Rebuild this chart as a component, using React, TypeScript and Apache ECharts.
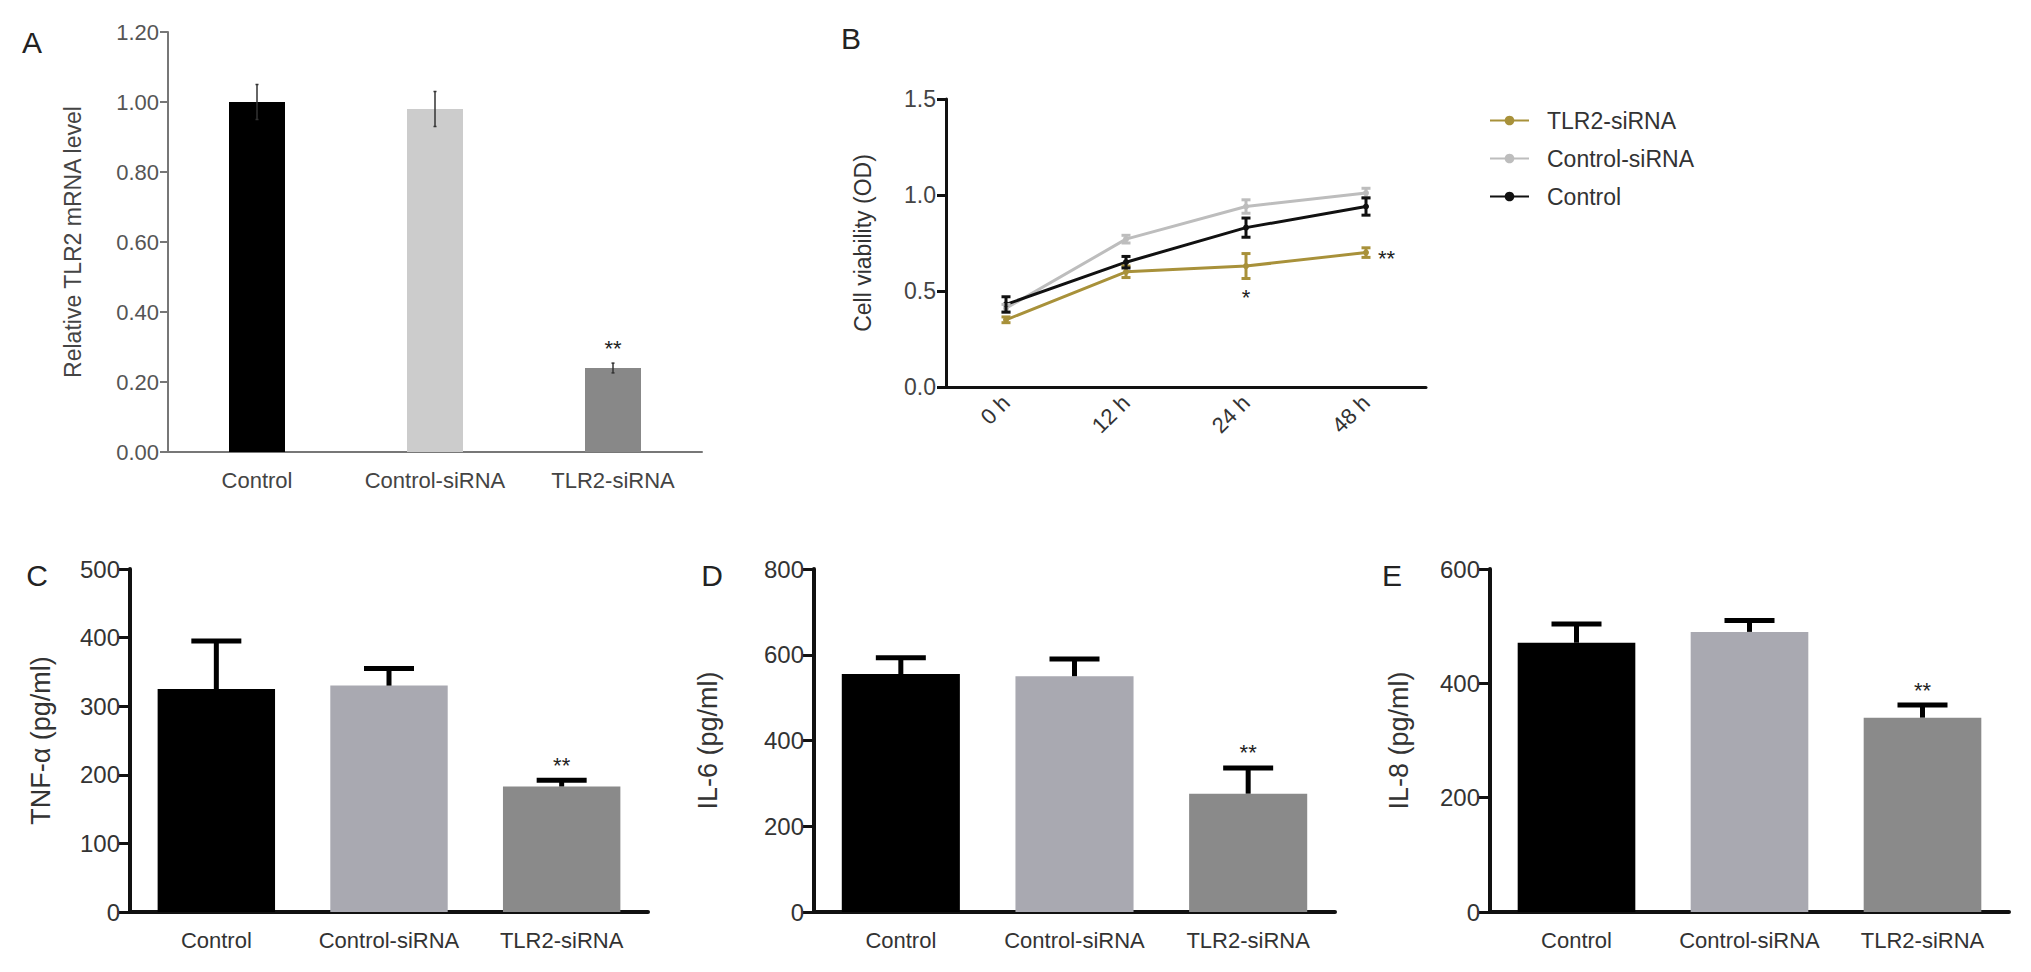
import { useEffect, useRef } from 'react';
import * as echarts from 'echarts';

const FONT = '"Liberation Sans", Arial, sans-serif';

// groups used by panels A, C, D, E
const groups = ['Control', 'Control-siRNA', 'TLR2-siRNA'];

// A: relative TLR2 mRNA level
const aMean = [1.0, 0.98, 0.24];
const aSd = [0.05, 0.05, 0.014];
const aSig = ['', '', '**'];

// B: cell viability (OD)
const hours = ['0 h', '12 h', '24 h', '48 h'];
const bTlr = [0.35, 0.6, 0.63, 0.7];
const bTlrSd = [0.015, 0.03, 0.065, 0.025];
const bTlrSig = ['', '', '*', '**'];
const bCtrlSi = [0.41, 0.77, 0.94, 1.01];
const bCtrlSiSd = [0.02, 0.02, 0.035, 0.025];
const bCtrl = [0.43, 0.65, 0.83, 0.94];
const bCtrlSd = [0.04, 0.03, 0.05, 0.045];

// C: TNF-α, D: IL-6, E: IL-8 (pg/ml)
const cMean = [325, 330, 183];
const cSd = [70, 25, 9];
const cSig = ['', '', '**'];
const dMean = [555, 550, 276];
const dSd = [38, 40, 60];
const dSig = ['', '', '**'];
const eMean = [471, 490, 340];
const eSd = [33, 20, 22];
const eSig = ['', '', '**'];

type ErrOpts = {
  color: string;
  lw: number;
  cap: number;
  both: boolean;
  sig?: string[];
  sigMode?: 'top' | 'bottomRight';
};

const errRender = (o: ErrOpts) => (params: any, api: any) => {
  const x = api.value(0);
  const m = api.value(1);
  const s = api.value(2);
  const pTop = api.coord([x, m + s]);
  const pLow = api.coord([x, o.both ? m - s : m]);
  const pMid = api.coord([x, m]);
  const h = o.cap / 2;
  const st = { stroke: o.color, lineWidth: o.lw };
  const children: any[] = [
    { type: 'line', shape: { x1: pTop[0], y1: pTop[1], x2: pLow[0], y2: pLow[1] }, style: st },
    { type: 'line', shape: { x1: pTop[0] - h, y1: pTop[1], x2: pTop[0] + h, y2: pTop[1] }, style: st },
  ];
  if (o.both) {
    children.push({ type: 'line', shape: { x1: pLow[0] - h, y1: pLow[1], x2: pLow[0] + h, y2: pLow[1] }, style: st });
  }
  const sig = o.sig ? o.sig[params.dataIndex] : '';
  if (sig) {
    let tx = pTop[0];
    let ty = pTop[1] - 4;
    let align = 'center';
    let va = 'bottom';
    if (o.sigMode === 'bottomRight') {
      if (sig === '*') {
        ty = pLow[1] + 8;
        va = 'top';
      } else {
        tx = pMid[0] + 12;
        ty = pMid[1] + 6;
        align = 'left';
        va = 'middle';
      }
    }
    children.push({
      type: 'text',
      x: tx,
      y: ty,
      style: { text: sig, font: `22px ${FONT}`, fill: '#222', align, verticalAlign: va },
    });
  }
  return { type: 'group', children };
};

const toErr = (mean: number[], sd: number[]) => mean.map((v, i) => [i, v, sd[i]]);

export default function App() {
  const ref = useRef<HTMLDivElement>(null);

  useEffect(() => {
    if (!ref.current) return;
    document.body.style.margin = '0';
    const chart = echarts.init(ref.current, null, { renderer: 'svg' });

    const grids = [
      { left: 168, top: 32, width: 534, height: 420 },
      { left: 946, top: 99, width: 480, height: 288 },
      { left: 130, top: 569, width: 518, height: 343 },
      { left: 814, top: 569, width: 521, height: 343 },
      { left: 1490, top: 569, width: 519, height: 343 },
    ];

    const bottomX = (gi: number) => ({
      type: 'category',
      gridIndex: gi,
      data: groups,
      axisLine: { lineStyle: { color: '#111', width: 4 } },
      axisTick: { alignWithLabel: true, length: 11, lineStyle: { color: '#111', width: 3 } },
      axisLabel: { color: '#333', fontSize: 22, fontFamily: FONT, margin: 17, interval: 0 },
    });
    const bottomY = (gi: number, max: number, interval: number, name: string, gap: number) => ({
      type: 'value',
      gridIndex: gi,
      min: 0,
      max,
      interval,
      name,
      nameLocation: 'middle',
      nameGap: gap,
      nameTextStyle: { color: '#333', fontSize: 27, fontFamily: FONT },
      splitLine: { show: false },
      axisLine: { show: true, lineStyle: { color: '#111', width: 4 } },
      axisTick: { show: true, length: 11, lineStyle: { color: '#111', width: 3 } },
      axisLabel: { color: '#333', fontSize: 24, fontFamily: FONT, margin: 10 },
    });
    const bottomBars = (gi: number, mean: number[], sd: number[], sig: string[]) => [
      {
        type: 'bar',
        xAxisIndex: gi,
        yAxisIndex: gi,
        barCategoryGap: '32%',
        data: mean.map((v, i) => ({ value: v, itemStyle: { color: ['#000000', '#a9a9b1', '#8a8a8a'][i] } })),
      },
      {
        type: 'custom',
        xAxisIndex: gi,
        yAxisIndex: gi,
        clip: false,
        z: 5,
        data: toErr(mean, sd),
        renderItem: errRender({ color: '#000', lw: 5, cap: 50, both: false, sig }),
      },
    ];

    const bLine = (name: string, data: number[], color: string) => ({
      type: 'line',
      name,
      xAxisIndex: 1,
      yAxisIndex: 1,
      data,
      symbol: 'circle',
      symbolSize: 6,
      lineStyle: { color, width: 3 },
      itemStyle: { color },
      z: 3,
    });
    const bErr = (mean: number[], sd: number[], color: string, sig?: string[]) => ({
      type: 'custom',
      xAxisIndex: 1,
      yAxisIndex: 1,
      clip: false,
      z: 4,
      data: toErr(mean, sd),
      renderItem: errRender({ color, lw: 3, cap: 9, both: true, sig, sigMode: 'bottomRight' }),
    });

    const letters = [
      ['A', 32, 42],
      ['B', 851, 38],
      ['C', 37, 575],
      ['D', 712, 575],
      ['E', 1392, 575],
    ];

    const option: any = {
      animation: false,
      backgroundColor: '#fff',
      grid: grids,
      legend: {
        orient: 'vertical',
        left: 1484,
        top: 104,
        itemWidth: 39,
        itemHeight: 12,
        itemGap: 15,
        data: ['TLR2-siRNA', 'Control-siRNA', 'Control'],
        textStyle: { color: '#333', fontSize: 23, fontFamily: FONT, padding: [0, 0, 0, 13] },
      },
      graphic: letters.map(([t, x, y]) => ({
        type: 'text',
        x,
        y,
        style: { text: t, font: `30px ${FONT}`, fill: '#222', align: 'center', verticalAlign: 'middle' },
      })),
      xAxis: [
        {
          type: 'category',
          gridIndex: 0,
          data: groups,
          axisLine: { lineStyle: { color: '#777', width: 2 } },
          axisTick: { inside: true, length: 10, lineStyle: { color: '#777', width: 2 } },
          axisLabel: { color: '#444', fontSize: 22, fontFamily: FONT, margin: 17, interval: 0 },
        },
        {
          type: 'category',
          gridIndex: 1,
          data: hours,
          axisLine: { lineStyle: { color: '#111', width: 3 } },
          axisTick: { alignWithLabel: true, length: 10, lineStyle: { color: '#111', width: 3 } },
          axisLabel: { color: '#333', fontSize: 22, fontFamily: FONT, rotate: 45, margin: 12, interval: 0 },
        },
        bottomX(2),
        bottomX(3),
        bottomX(4),
      ],
      yAxis: [
        {
          type: 'value',
          gridIndex: 0,
          min: 0,
          max: 1.2,
          interval: 0.2,
          name: 'Relative TLR2 mRNA level',
          nameLocation: 'middle',
          nameGap: 84,
          nameTextStyle: { color: '#444', fontSize: 23, fontFamily: FONT },
          splitLine: { show: false },
          axisLine: { show: true, lineStyle: { color: '#777', width: 2 } },
          axisTick: { show: true, length: 8, lineStyle: { color: '#777', width: 2 } },
          axisLabel: { color: '#555', fontSize: 22, fontFamily: FONT, margin: 9, formatter: (v: number) => v.toFixed(2) },
        },
        {
          type: 'value',
          gridIndex: 1,
          min: 0,
          max: 1.5,
          interval: 0.5,
          name: 'Cell viability (OD)',
          nameLocation: 'middle',
          nameGap: 72,
          nameTextStyle: { color: '#333', fontSize: 23, fontFamily: FONT },
          splitLine: { show: false },
          axisLine: { show: true, lineStyle: { color: '#111', width: 3 } },
          axisTick: { show: true, length: 9, lineStyle: { color: '#111', width: 3 } },
          axisLabel: { color: '#444', fontSize: 23, fontFamily: FONT, margin: 10, formatter: (v: number) => v.toFixed(1) },
        },
        bottomY(2, 500, 100, 'TNF-α (pg/ml)', 76),
        bottomY(3, 800, 200, 'IL-6 (pg/ml)', 93),
        bottomY(4, 600, 200, 'IL-8 (pg/ml)', 78),
      ],
      series: [
        {
          type: 'bar',
          xAxisIndex: 0,
          yAxisIndex: 0,
          barWidth: 56,
          data: aMean.map((v, i) => ({ value: v, itemStyle: { color: ['#000000', '#cccccc', '#888888'][i] } })),
        },
        {
          type: 'custom',
          xAxisIndex: 0,
          yAxisIndex: 0,
          clip: false,
          z: 5,
          data: toErr(aMean, aSd),
          renderItem: errRender({ color: '#333', lw: 1.5, cap: 3, both: true, sig: aSig }),
        },
        bLine('TLR2-siRNA', bTlr, '#a8913a'),
        bLine('Control-siRNA', bCtrlSi, '#bdbdbd'),
        bLine('Control', bCtrl, '#111111'),
        bErr(bTlr, bTlrSd, '#a8913a', bTlrSig),
        bErr(bCtrlSi, bCtrlSiSd, '#bdbdbd'),
        bErr(bCtrl, bCtrlSd, '#111111'),
        ...bottomBars(2, cMean, cSd, cSig),
        ...bottomBars(3, dMean, dSd, dSig),
        ...bottomBars(4, eMean, eSd, eSig),
      ],
    };

    chart.setOption(option, true);
    return () => chart.dispose();
  }, []);

  return <div ref={ref} style={{ width: 2031, height: 972 }} />;
}
